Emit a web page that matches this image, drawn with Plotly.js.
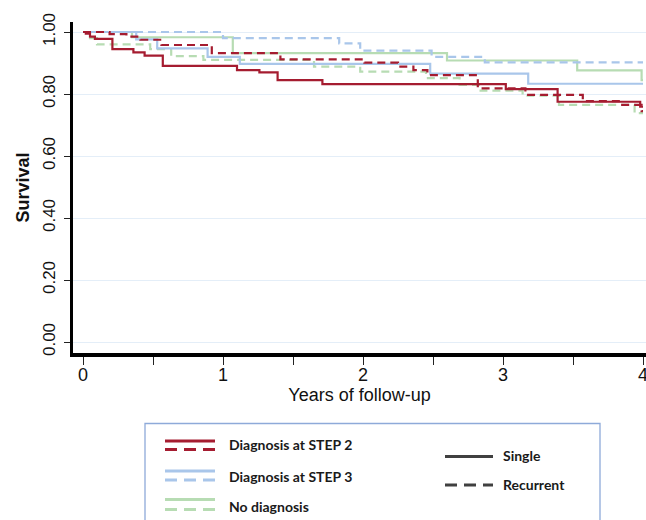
<!DOCTYPE html>
<html>
<head>
<meta charset="utf-8">
<script src="https://cdn.plot.ly/plotly-3.0.1.min.js"></script>
<style>html,body{margin:0;padding:0;background:#fff;}#chart{width:646px;height:520px;}</style>
</head>
<body>
<div id="chart"></div>
<script>
// ---- Data ----
const step2SingleT = [0, 0.02, 0.05, 0.085, 0.21, 0.36, 0.44, 0.57, 1.10, 1.26, 1.39, 1.71, 3.02, 3.39, 3.98, 4.0];
const step2SingleS = [1.0, 0.995, 0.985, 0.978, 0.945, 0.934, 0.924, 0.891, 0.877, 0.870, 0.845, 0.832, 0.816, 0.775, 0.759, 0.759];
const step2RecT = [0, 0.19, 0.31, 0.41, 0.56, 0.92, 1.41, 2.01, 2.25, 2.36, 2.46, 2.82, 3.16, 3.57, 3.84, 3.99, 4.0];
const step2RecS = [1.0, 0.993, 0.985, 0.975, 0.958, 0.932, 0.912, 0.901, 0.888, 0.877, 0.861, 0.818, 0.797, 0.777, 0.765, 0.745, 0.745];
const step3SingleT = [0, 0.38, 0.53, 0.89, 1.12, 2.48, 3.18, 4.0];
const step3SingleS = [1.0, 0.976, 0.947, 0.920, 0.897, 0.866, 0.833, 0.833];
const step3RecT = [0, 1.0, 1.83, 1.98, 2.49, 2.87, 4.0];
const step3RecS = [1.0, 0.980, 0.963, 0.940, 0.920, 0.902, 0.902];
const noDiagSingleT = [0, 0.35, 1.07, 2.60, 3.53, 3.99, 4.0];
const noDiagSingleS = [1.0, 0.983, 0.932, 0.908, 0.876, 0.845, 0.845];
const noDiagRecT = [0, 0.05, 0.10, 0.48, 0.63, 0.86, 1.65, 1.98, 2.45, 2.69, 2.84, 3.14, 3.40, 3.94, 4.0];
const noDiagRecS = [1.0, 0.980, 0.960, 0.945, 0.922, 0.910, 0.888, 0.872, 0.851, 0.829, 0.811, 0.795, 0.765, 0.738, 0.738];

const yTickVals = [0, 0.2, 0.4, 0.6, 0.8, 1.0];
const yTickText = ["0.00", "0.20", "0.40", "0.60", "0.80", "1.00"];
const xTickVals = [0, 0.5, 1, 1.5, 2, 2.5, 3, 3.5, 4];
const xTickText = ["0", "", "1", "", "2", "", "3", "", "4"];

const groupLabels = ["Diagnosis at STEP 2", "Diagnosis at STEP 3", "No diagnosis"];
const typeLabels = ["Single", "Recurrent"];

// ---- Styles ----
const RED = "#a51c30", BLUE = "#a9c6ea", GREEN = "#b7dcb3", DARK = "#404040";
const DASH = "8px,5px";

function tr(x, y, color, dashed) {
  return {x: x, y: y, type: "scatter", mode: "lines", line: {shape: "hv", color: color, width: 2.2, dash: dashed ? DASH : "solid"}, showlegend: false, hoverinfo: "skip"};
}
const traces = [
  tr(noDiagSingleT, noDiagSingleS, GREEN, false),
  tr(noDiagRecT, noDiagRecS, GREEN, true),
  tr(step3SingleT, step3SingleS, BLUE, false),
  tr(step3RecT, step3RecS, BLUE, true),
  tr(step2SingleT, step2SingleS, RED, false),
  tr(step2RecT, step2RecS, RED, true)
];

// pixel -> paper helpers (plot area: x 73..646, y 22..353)
const L = 73, T = 22, W = 573, H = 331;
const xp = px => (px - L) / W;
const yp = py => (T + H - py) / H;

const LEGFONT = {family: "Lato, 'Open Sans', sans-serif", size: 14, color: "#1a1a1a", weight: "bold"};
const shapes = [];
const annotations = [];
// legend box
shapes.push({type: "rect", xref: "paper", yref: "paper", x0: xp(145), x1: xp(600), y0: yp(540), y1: yp(423.5), line: {color: "#8eaad9", width: 1.3}, fillcolor: "rgba(0,0,0,0)"});
const legColors = [RED, BLUE, GREEN];
const solidY = [441, 471, 499.5];
const dashY = [449.5, 480, 509.5];
const textY = [444.5, 476.5, 506.5];
for (let i = 0; i < 3; i++) {
  shapes.push({type: "line", xref: "paper", yref: "paper", x0: xp(165), x1: xp(215), y0: yp(solidY[i]), y1: yp(solidY[i]), line: {color: legColors[i], width: 3}});
  shapes.push({type: "line", xref: "paper", yref: "paper", x0: xp(165), x1: xp(215), y0: yp(dashY[i]), y1: yp(dashY[i]), line: {color: legColors[i], width: 3, dash: "12px,7px"}});
  annotations.push({xref: "paper", yref: "paper", x: xp(227), y: yp(textY[i]), xanchor: "left", yanchor: "middle", showarrow: false, text: groupLabels[i], font: LEGFONT});
}
shapes.push({type: "line", xref: "paper", yref: "paper", x0: xp(445), x1: xp(493), y0: yp(456.5), y1: yp(456.5), line: {color: DARK, width: 3}});
shapes.push({type: "line", xref: "paper", yref: "paper", x0: xp(445), x1: xp(493), y0: yp(485), y1: yp(485), line: {color: DARK, width: 3, dash: "12px,7px"}});
annotations.push({xref: "paper", yref: "paper", x: xp(501), y: yp(455.5), xanchor: "left", yanchor: "middle", showarrow: false, text: typeLabels[0], font: LEGFONT});
annotations.push({xref: "paper", yref: "paper", x: xp(501), y: yp(484), xanchor: "left", yanchor: "middle", showarrow: false, text: typeLabels[1], font: LEGFONT});

const layout = {
  width: 646, height: 520,
  margin: {l: L, r: 0, t: T, b: 520 - T - H, pad: 0},
  paper_bgcolor: "#ffffff", plot_bgcolor: "#ffffff",
  showlegend: false,
  font: {family: "Arial, 'Liberation Sans', sans-serif", color: "#111"},
  xaxis: {
    range: [(L - 83) / 140, (646 - 83) / 140],
    tickvals: xTickVals, ticktext: xTickText,
    ticks: "outside", ticklen: 8, tickwidth: 1, tickcolor: "#222",
    ticklabeloverflow: "allow",
    ticklabelstandoff: -5,
    showgrid: false, zeroline: false,
    showline: true, linecolor: "#000", linewidth: 3.5,
    tickfont: {size: 18, color: "#111"},
    title: {text: "Years of follow-up", font: {size: 18, color: "#111"}, standoff: 0}
  },
  yaxis: {
    range: [(342 - 353) / 310, (342 - 22) / 310],
    tickvals: yTickVals, ticktext: yTickText,
    tickangle: -90,
    ticks: "outside", ticklen: 6, tickwidth: 1, tickcolor: "#222",
    ticklabelstandoff: 2,
    showgrid: true, gridcolor: "#e4eef8", gridwidth: 1,
    zeroline: false,
    showline: true, linecolor: "#000", linewidth: 3.5,
    tickfont: {size: 17, color: "#111"},
    title: {text: "<b>Survival</b>", font: {size: 18, color: "#111"}, standoff: 6}
  },
  shapes: shapes,
  annotations: annotations
};

Plotly.newPlot("chart", traces, layout, {displayModeBar: false, staticPlot: true});
</script>
</body>
</html>
